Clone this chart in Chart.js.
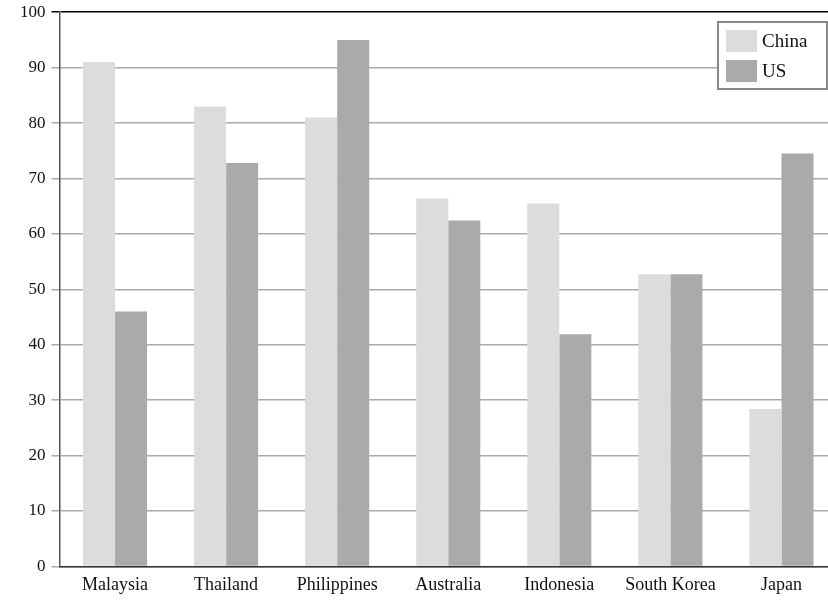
<!DOCTYPE html>
<html>
<head>
<meta charset="utf-8">
<script src="https://cdn.jsdelivr.net/npm/chart.js@4.4.0/dist/chart.umd.min.js"></script>
<style>
  html, body { margin: 0; padding: 0; background: #fff; overflow: hidden; }
  #wrap { width: 850px; height: 600px; overflow: hidden; }
  #chart { margin-top: -4px; display: block; }
</style>
</head>
<body>
<div id="wrap"><canvas id="chart" width="850" height="604"></canvas></div>
<script>
var categories = ["Malaysia", "Thailand", "Philippines", "Australia", "Indonesia", "South Korea", "Japan"];
var chinaValues = [91, 83, 81, 66.4, 65.5, 52.7, 28.4];
var usValues = [46, 72.8, 95, 62.4, 41.9, 52.7, 74.5];
var seriesNames = ["China", "US"];
var yTicks = [0, 10, 20, 30, 40, 50, 60, 70, 80, 90, 100];

var fontFamily = "'Liberation Serif', 'DejaVu Serif', serif";

// legend drawn inside the plot, top right
var boxLegend = {
  id: "boxLegend",
  afterDraw: function(chart) {
    var ctx = chart.ctx;
    var x = 718, y = 26, w = 109, h = 67;
    ctx.save();
    ctx.fillStyle = "#fff";
    ctx.fillRect(x, y, w, h);
    ctx.strokeStyle = "#888";
    ctx.lineWidth = 2;
    ctx.strokeRect(x, y, w, h);
    ctx.font = "19px " + fontFamily;
    ctx.textBaseline = "middle";
    chart.data.datasets.forEach(function(ds, i) {
      var sy = y + 8 + i * 30;
      ctx.fillStyle = ds.backgroundColor;
      ctx.fillRect(x + 8, sy, 31, 22);
      ctx.fillStyle = "#111";
      ctx.fillText(ds.label, x + 44, sy + 12);
    });
    ctx.restore();
  }
};

new Chart(document.getElementById("chart"), {
  type: "bar",
  data: {
    labels: categories,
    datasets: [
      { label: seriesNames[0], data: chinaValues, backgroundColor: "#dcdcdc" },
      { label: seriesNames[1], data: usValues, backgroundColor: "#aaaaaa" }
    ]
  },
  options: {
    responsive: false,
    animation: false,
    layout: { padding: { top: 0, right: 13, left: 14, bottom: 4 } },
    datasets: { bar: { categoryPercentage: 0.577, barPercentage: 1 } },
    plugins: { legend: { display: false }, tooltip: { enabled: false } },
    scales: {
      x: {
        grid: { display: false },
        border: { color: "#333", width: 1.5 },
        ticks: { color: "#111", font: { size: 18, family: fontFamily }, padding: 0 }
      },
      y: {
        min: 0, max: 100,
        afterBuildTicks: function(axis) {
          axis.ticks = yTicks.map(function(v) { return { value: v }; });
        },
        grid: {
          color: function(c) { return c.tick && c.tick.value === 100 ? "#000" : "#aaa"; },
          lineWidth: 1.5,
          tickLength: 8
        },
        border: { color: "#555", width: 1.5 },
        ticks: { color: "#111", font: { size: 17, family: fontFamily }, padding: 6 }
      }
    }
  },
  plugins: [boxLegend]
});
</script>
</body>
</html>
